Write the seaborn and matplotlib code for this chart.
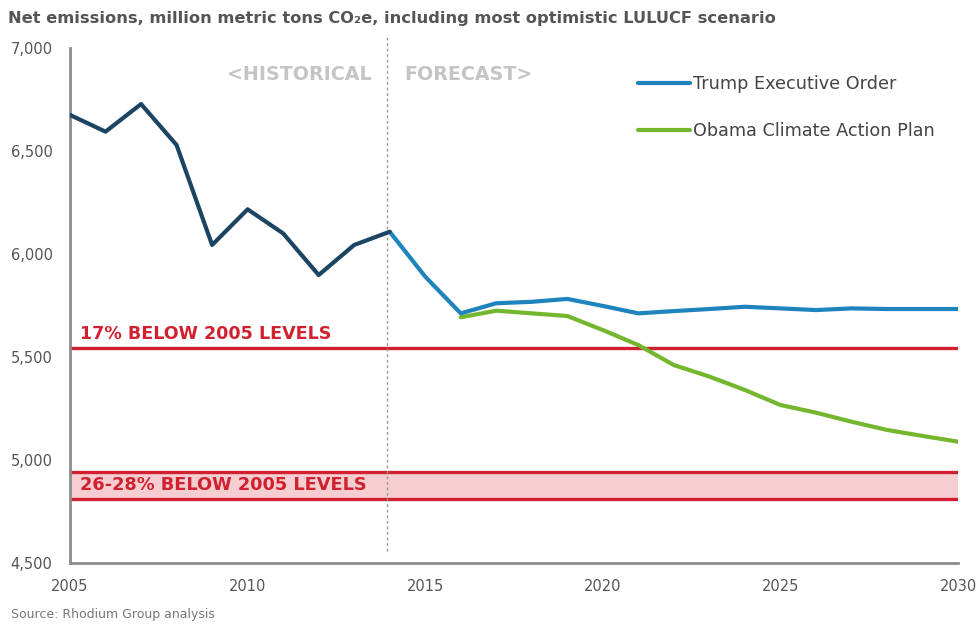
import matplotlib
matplotlib.use("Agg")
import matplotlib.pyplot as plt
import seaborn as sns
import pandas as pd
from matplotlib.ticker import FuncFormatter

# ---- data ----
hist_years = [2005, 2006, 2007, 2008, 2009, 2010, 2011, 2012, 2013, 2014]
hist_values = [6675, 6594, 6728, 6529, 6044, 6217, 6100, 5898, 6044, 6108]

trump_years = list(range(2014, 2031))
trump_values = [6108, 5890, 5712, 5761, 5768, 5782, 5748, 5712, 5723, 5733,
                5744, 5736, 5728, 5736, 5733, 5733, 5733]

obama_years = list(range(2016, 2031))
obama_values = [5693, 5725, 5712, 5699, 5631, 5558, 5461, 5405, 5340, 5267,
                5230, 5186, 5146, 5117, 5089]

target_17 = 5545
band_low, band_high = 4810, 4943
split_year = 2014

x_ticks = [2005, 2010, 2015, 2020, 2025, 2030]
y_ticks = [4500, 5000, 5500, 6000, 6500, 7000]

labels = ["Trump Executive Order", "Obama Climate Action Plan"]

# ---- style ----
sns.set_theme(style="white")
plt.rcParams['font.family'] = ['DejaVu Sans']

NAVY = "#1b4562"
BLUE = "#1e84bd"
GREEN = "#74b72e"
RED = "#d1202f"
PINK = "#f6cdd0"

fig = plt.figure(figsize=(9.78, 6.30), dpi=100)
ax = fig.add_axes([0.0716, 0.1063, 0.9080, 0.8175])

# band and target lines
ax.axhspan(band_low, band_high, color=PINK, zorder=1, lw=0)
for yv in (target_17, band_low, band_high):
    ax.axhline(yv, color=RED, lw=2.4, zorder=2)

df_h = pd.DataFrame({"year": hist_years, "value": hist_values})
df_t = pd.DataFrame({"year": trump_years, "value": trump_values})
df_o = pd.DataFrame({"year": obama_years, "value": obama_values})

sns.lineplot(data=df_o, x="year", y="value", ax=ax, color=GREEN, lw=3, zorder=3)
sns.lineplot(data=df_t, x="year", y="value", ax=ax, color=BLUE, lw=3, zorder=4)
sns.lineplot(data=df_h, x="year", y="value", ax=ax, color=NAVY, lw=3, zorder=5)

# divider
ax.vlines(split_year - 0.08, 4560, 7055, colors="#999999", linestyles=(0, (2, 2)),
          lw=1, clip_on=False, zorder=2)

ax.set_xlim(2005, 2030)
ax.set_ylim(4500, 7000)
ax.set_xticks(x_ticks)
ax.set_yticks(y_ticks)
ax.yaxis.set_major_formatter(FuncFormatter(lambda v, p: f"{int(v):,}"))
ax.set_xlabel("")
ax.set_ylabel("")
ax.tick_params(axis="both", length=0, labelsize=10.5, colors="#555555")
ax.tick_params(axis="x", pad=11.5)
ax.tick_params(axis="y", pad=12.5)

for s in ("top", "right"):
    ax.spines[s].set_visible(False)
for s in ("left", "bottom"):
    ax.spines[s].set_color("#8c8c8c")
    ax.spines[s].set_linewidth(2)

# annotations
ax.text(split_year - 0.5, 6869, "<HISTORICAL", ha="right", va="center",
        fontsize=13.7, fontweight="bold", color="#c4c4c4")
ax.text(split_year + 0.42, 6869, "FORECAST>", ha="left", va="center",
        fontsize=13.7, fontweight="bold", color="#c4c4c4")
ax.text(2005.28, target_17 + 25, "17% BELOW 2005 LEVELS", ha="left", va="bottom",
        fontsize=12.6, fontweight="bold", color=RED)
ax.text(2005.28, (band_low + band_high) / 2, "26-28% BELOW 2005 LEVELS",
        ha="left", va="center", fontsize=12.8, fontweight="bold", color=RED)

# legend
leg_lines = [plt.Line2D([], [], color=BLUE, lw=3),
             plt.Line2D([], [], color=GREEN, lw=3)]
ax.legend(leg_lines, labels, loc="upper left", bbox_to_anchor=(0.64, 0.948),
          frameon=False, fontsize=12.7, handlelength=2.95, handletextpad=0.12,
          labelspacing=1.65, borderpad=0, borderaxespad=0,
          labelcolor="#444444")

fig.text(0.008, 0.970, "Net emissions, million metric tons CO₂e, including most optimistic LULUCF scenario",
         ha="left", va="center", fontsize=11.7, fontweight="bold", color="#555555")
fig.text(0.011, 0.024, "Source: Rhodium Group analysis", ha="left", va="center",
         fontsize=9, color="#777777")

fig.savefig("out.png", dpi=100)
